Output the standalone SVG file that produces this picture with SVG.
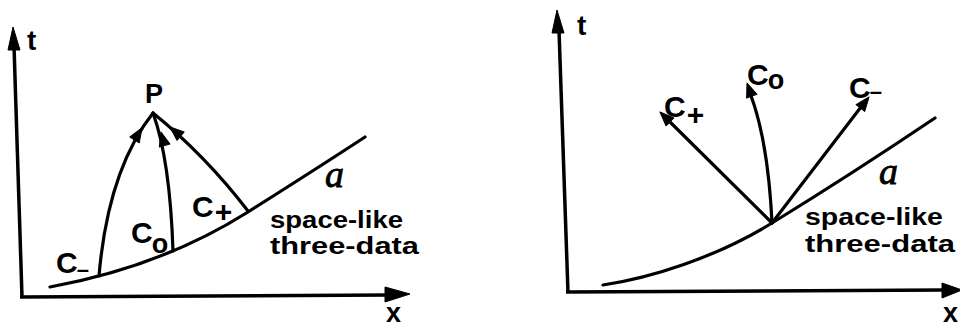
<svg xmlns="http://www.w3.org/2000/svg" width="960" height="327" viewBox="0 0 960 327">
<style>
.ln{fill:none;stroke:#000;stroke-width:3.2;stroke-linecap:round}
.ax{fill:none;stroke:#000;stroke-width:3.5}
.hd{fill:#000;stroke:#000;stroke-width:1;stroke-linejoin:round}
.lb{font-family:"Liberation Sans",Arial,sans-serif;font-weight:bold;fill:#000}
.sc{font-family:"Liberation Serif","Times New Roman",serif;font-style:italic;fill:#000;stroke:#000;stroke-width:0.8}
</style>
<defs>
<path id="ah" d="M0,0 L-14,-5.5 L-14,5.5 Z"/>
</defs>
<rect width="960" height="327" fill="#fff"/>

<g id="left-axes">
<path class="ax" d="M22,297 L14,46"/>
<polygon class="hd" points="13,27 8,50 20,50"/>
<path class="ax" d="M20,297 L390,295"/>
<polygon class="hd" points="410,294 385,287 385,302"/>
<text class="lb" x="27" y="50" font-size="28">t</text>
<text class="lb" x="386" y="322" font-size="27">x</text>
</g>

<g id="left-data">
<path class="ln" stroke-width="3.6" d="M50,287 C110,276 180,255 248,212 S330,160 365,137"/>
<text class="sc" x="325" y="187" font-size="38">a</text>
<text class="lb" x="270" y="228" font-size="23" textLength="133" lengthAdjust="spacingAndGlyphs">space-like</text>
<text class="lb" x="270" y="254" font-size="23" textLength="149" lengthAdjust="spacingAndGlyphs">three-data</text>
</g>

<g id="left-P">
<text class="lb" x="145" y="103" font-size="27">P</text>
</g>

<g id="left-connectors">
<path class="ln" d="M99,276 Q108,170 153,113"/>
<path class="ln" d="M173,251 Q170,160 153,113"/>
<path class="ln" d="M248,211 Q205,155 153,113"/>
<use href="#ah" class="hd" transform="translate(142,128) rotate(-58)"/>
<use href="#ah" class="hd" transform="translate(161,132) rotate(-105)"/>
<use href="#ah" class="hd" transform="translate(170,127) rotate(-139)"/>
</g>

<g id="left-labels">
<text class="lb" x="56" y="273" font-size="30">C<tspan font-size="22" dx="-1" dy="4">–</tspan></text>
<text class="lb" x="131" y="243" font-size="30">C<tspan font-size="27" dx="-1" dy="10">o</tspan></text>
<text class="lb" x="192" y="217" font-size="30">C<tspan font-size="30" dx="1" dy="5">+</tspan></text>
</g>

<g id="right-axes">
<path class="ax" d="M568,293 L559,30"/>
<polygon class="hd" points="557,10 552,33 564,33"/>
<path class="ax" d="M566,292 L945,290"/>
<polygon class="hd" points="962,290 942,283 942,298"/>
<text class="lb" x="577" y="35" font-size="28">t</text>
<text class="lb" x="943" y="322" font-size="27">x</text>
</g>

<g id="right-data">
<path class="ln" stroke-width="3.6" d="M603,285 C650,278 715,258 772,223 S880,155 935,118"/>
<text class="sc" x="879" y="184" font-size="38">a</text>
<text class="lb" x="805" y="225" font-size="23" textLength="138" lengthAdjust="spacingAndGlyphs">space-like</text>
<text class="lb" x="805" y="252" font-size="23" textLength="150" lengthAdjust="spacingAndGlyphs">three-data</text>
</g>

<g id="right-connectors">
<path class="ln" d="M772,223 L668,120"/>
<path class="ln" d="M772,223 Q768,140 750,93"/>
<path class="ln" d="M772,223 L861,107"/>
<use href="#ah" class="hd" transform="translate(660,112) rotate(-135)"/>
<use href="#ah" class="hd" transform="translate(747,83) rotate(-110)"/>
<use href="#ah" class="hd" transform="translate(869,97) rotate(-52)"/>
</g>

<g id="right-labels">
<text class="lb" x="664" y="117" font-size="30">C<tspan font-size="30" dx="1" dy="8">+</tspan></text>
<text class="lb" x="747" y="85" font-size="30">C<tspan font-size="27" dx="-1" dy="4">o</tspan></text>
<text class="lb" x="849" y="98" font-size="30">C<tspan font-size="22" dx="-1" dy="1">–</tspan></text>
</g>
</svg>
